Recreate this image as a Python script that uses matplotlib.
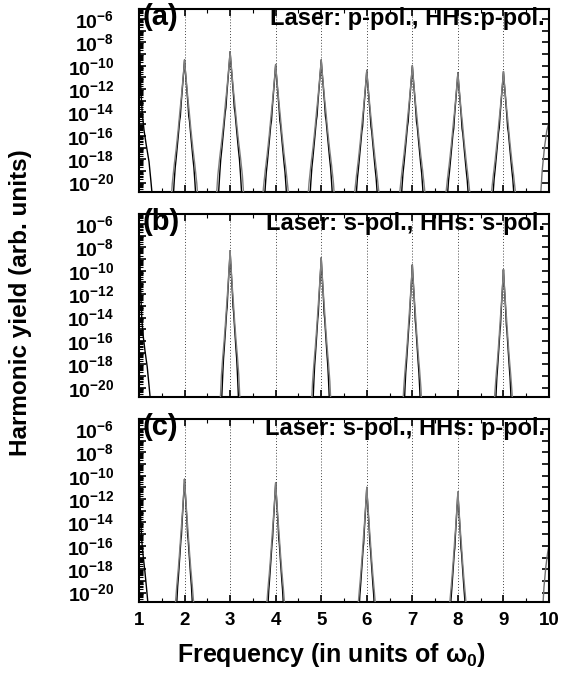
import numpy as np
import matplotlib
matplotlib.use("Agg")
import matplotlib.pyplot as plt
from matplotlib.ticker import FixedLocator, FuncFormatter, MultipleLocator

plt.rcParams['font.family'] = ['Liberation Sans', 'DejaVu Sans']
plt.rcParams['font.weight'] = 'bold'
plt.rcParams['mathtext.fontset'] = 'custom'
plt.rcParams['mathtext.rm'] = 'Liberation Sans:bold'
plt.rcParams['mathtext.bf'] = 'Liberation Sans:bold'
plt.rcParams['mathtext.it'] = 'Liberation Sans:bold'

# peak orders and heights (log10 of yield)
orders_a = [2, 3, 4, 5, 6, 7, 8, 9]
heights_a = [-9.5, -8.8, -9.9, -9.5, -10.4, -10.0, -10.6, -10.5]
orders_b = [3, 5, 7, 9]
heights_b = [-8.3, -8.9, -9.5, -9.9]
orders_c = [2, 4, 6, 8]
heights_c = [-10.3, -10.6, -11.0, -11.4]

# shape of one harmonic line: offset from the order (units of w0) and drop in decades
gray_dx = [0.0, 0.015, 0.04, 0.07, 0.09, 0.13, 0.17, 0.21, 0.25, 0.28]
gray_drop = [0.0, 0.8, 2.0, 3.4, 4.2, 6.0, 7.6, 9.0, 10.6, 12.5]
black_dx = [0.0, 0.015, 0.04, 0.07, 0.085, 0.1, 0.13, 0.17, 0.19, 0.21, 0.24]
black_drop = [0.0, 0.9, 2.2, 3.8, 4.8, 5.2, 6.6, 8.4, 9.2, 10.4, 12.5]
width_scale = {'a': 1.08, 'b': 0.76, 'c': 0.8}

# tails at the plot edges (fundamental and 10th harmonic)
left_x = {'a': [1.0, 1.02, 1.04, 1.07, 1.11, 1.16, 1.22, 1.26, 1.3],
          'b': [1.0, 1.02, 1.04, 1.06, 1.09, 1.13, 1.18, 1.22, 1.26],
          'c': [1.0, 1.01, 1.02, 1.04, 1.06, 1.09, 1.13, 1.17, 1.21]}
left_y = [-6.0, -9.0, -12.0, -14.0, -15.5, -16.8, -18.2, -19.8, -21.5]
right_x = {'a': [9.81, 9.85, 9.9, 9.95, 10.0],
           'c': [9.86, 9.89, 9.93, 9.97, 10.0]}
right_y = {'a': [-21.5, -19.0, -17.0, -15.6, -14.8],
           'c': [-21.5, -19.5, -17.8, -16.6, -16.0]}

titles = {'a': 'Laser: p-pol., HHs:p-pol.',
          'b': 'Laser: s-pol., HHs: s-pol.',
          'c': 'Laser: s-pol., HHs: p-pol.'}
panels = [('a', orders_a, heights_a), ('b', orders_b, heights_b), ('c', orders_c, heights_c)]

fig = plt.figure(figsize=(5.83, 6.76), dpi=100)
bottoms = [0.716, 0.4127, 0.1095]

def line_for(order, h, dx, drop, s):
    dx = np.array(dx) * s
    drop = np.array(drop)
    xs = np.concatenate([order - dx[::-1], order + dx[1:]])
    ys = np.concatenate([h - drop[::-1], h - drop[1:]])
    return xs, 10.0 ** ys

def ylabel_fmt(v, p):
    e = int(round(np.log10(v)))
    return r'$\mathbf{10^{%d}}$' % e if e % 2 == 0 else ''

for (key, orders, heights), b in zip(panels, bottoms):
    ax = fig.add_axes([0.2384, b, 0.7033, 0.2707])
    s = width_scale[key]
    for o in range(2, 10):
        ax.axvline(o, color='#444444', ls=(0, (1, 2)), lw=0.7, zorder=1)
    for o, h in zip(orders, heights):
        xs, ys = line_for(o, h, black_dx, black_drop, s)
        ax.plot(xs, ys, color='black', lw=1.0, zorder=2)
        xs, ys = line_for(o, h, gray_dx, gray_drop, s)
        ax.plot(xs, ys, color='#808080', lw=1.0, zorder=3)
    ax.plot(left_x[key], 10.0 ** np.array(left_y), color='black', lw=1.0, zorder=2)
    if key in right_x:
        ax.plot(right_x[key], 10.0 ** np.array(right_y[key]), color='#707070', lw=1.0, zorder=2)

    ax.set_yscale('log')
    ax.set_xlim(1, 10)
    ax.set_ylim(10 ** -20.8, 10 ** -5.15)
    ax.yaxis.set_major_locator(FixedLocator([10.0 ** e for e in range(-20, -5)]))
    ax.yaxis.set_minor_locator(FixedLocator([m * 10.0 ** e for e in range(-21, -5) for m in range(2, 10)]))
    ax.yaxis.set_major_formatter(FuncFormatter(ylabel_fmt))
    ax.xaxis.set_major_locator(MultipleLocator(1))
    ax.xaxis.set_minor_locator(MultipleLocator(0.5))
    ax.tick_params(which='major', direction='in', top=True, right=True, length=5, width=1.2)
    ax.tick_params(which='minor', direction='in', top=True, right=False, length=3, width=0.8)
    ax.tick_params(axis='y', which='major', labelsize=14, pad=18)
    ax.tick_params(axis='x', which='major', labelsize=13.5, pad=7)
    for sp in ax.spines.values():
        sp.set_linewidth(1.5)
    if key != 'c':
        ax.set_xticklabels([])
    ax.text(0.008, 0.955, '(' + key + ')', transform=ax.transAxes, fontsize=21,
            fontweight='bold', ha='left', va='center')
    ax.text(0.99, 0.95, titles[key], transform=ax.transAxes, fontsize=17,
            fontweight='bold', ha='right', va='center')

fig.text(0.036, 0.553, 'Harmonic yield (arb. units)', rotation=90, fontsize=17.5,
         fontweight='bold', ha='center', va='center')
fig.text(0.568, 0.031, r'Frequency (in units of $\omega_0$)', fontsize=18,
         fontweight='bold', ha='center', va='center')

fig.savefig('out.png', dpi=100)
